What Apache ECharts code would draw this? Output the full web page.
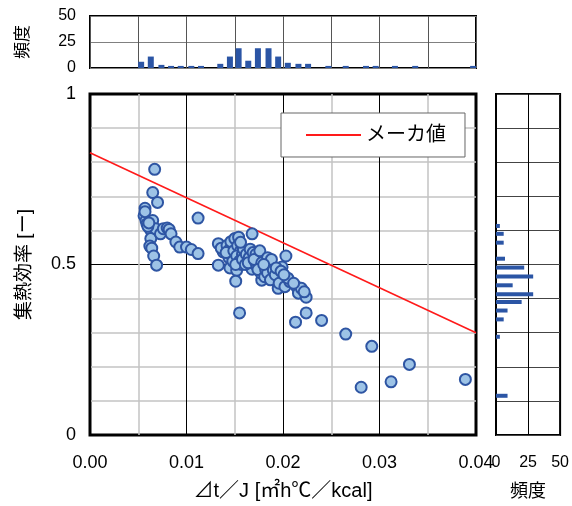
<!DOCTYPE html>
<html><head><meta charset="utf-8">
<script src="https://cdn.jsdelivr.net/npm/echarts@6/dist/echarts.min.js"></script>
<style>html,body{margin:0;padding:0;background:#fff}#c{width:572px;height:506px}</style>
</head><body><div id="c"></div>
<script>
// measured points [Δt/J, collector efficiency]
const measured = [
  [0.0067,0.779],[0.0065,0.711],[0.0070,0.682],[0.0057,0.665],[0.0056,0.643],[0.0058,0.629],
  [0.0059,0.619],[0.0065,0.629],[0.0062,0.605],[0.0064,0.595],[0.0063,0.576],[0.0062,0.554],
  [0.0064,0.548],[0.0066,0.525],[0.0069,0.498],[0.0068,0.605],[0.0073,0.590],[0.0076,0.605],
  [0.0080,0.607],[0.0082,0.603],[0.0084,0.590],[0.0089,0.566],[0.0093,0.551],[0.0100,0.551],
  [0.0105,0.544],[0.0112,0.532],[0.0112,0.636],[0.0057,0.655],[0.0060,0.612],[0.0061,0.622],
  [0.0133,0.561],[0.0133,0.498],[0.0138,0.537],[0.0136,0.548],
  [0.0142,0.556],[0.0145,0.545],[0.0147,0.530],[0.0145,0.490],[0.0149,0.561],[0.0144,0.520],
  [0.0148,0.510],[0.0141,0.535],[0.0146,0.567],[0.0149,0.540],
  [0.0150,0.576],[0.0154,0.580],[0.0152,0.483],[0.0151,0.451],[0.0155,0.358],[0.0153,0.555],
  [0.0156,0.540],[0.0152,0.525],[0.0158,0.530],[0.0155,0.510],[0.0157,0.500],[0.0159,0.545],
  [0.0151,0.500],[0.0156,0.565],[0.0158,0.515],
  [0.0168,0.590],[0.0168,0.486],[0.0162,0.530],[0.0165,0.520],[0.0161,0.500],[0.0166,0.545],
  [0.0164,0.505],[0.0169,0.535],
  [0.0174,0.527],[0.0178,0.454],[0.0171,0.510],[0.0173,0.495],[0.0176,0.520],[0.0179,0.490],
  [0.0172,0.530],[0.0175,0.500],[0.0177,0.475],[0.0170,0.515],[0.0178,0.505],[0.0174,0.485],
  [0.0176,0.540],
  [0.0181,0.464],[0.0185,0.508],[0.0184,0.520],[0.0183,0.495],[0.0187,0.480],[0.0182,0.485],
  [0.0186,0.500],[0.0189,0.470],[0.0188,0.515],[0.0184,0.475],[0.0180,0.500],[0.0187,0.455],
  [0.0197,0.459],[0.0195,0.430],[0.0195,0.474],[0.0199,0.493],[0.0190,0.483],[0.0192,0.470],
  [0.0196,0.445],[0.0193,0.490],[0.0198,0.480],
  [0.0203,0.525],[0.0202,0.435],[0.0207,0.450],[0.0205,0.460],[0.0201,0.470],
  [0.0214,0.435],[0.0216,0.416],[0.0219,0.430],[0.0213,0.331],[0.0211,0.445],
  [0.0224,0.404],[0.0224,0.358],[0.0222,0.420],
  [0.0240,0.336],[0.0265,0.296],[0.0292,0.260],[0.0331,0.207],[0.0312,0.156],[0.0281,0.140],
  [0.0389,0.163]
];
// manufacturer's line
const makerX = [0, 0.04];
const makerY = [0.828, 0.300];
// top histogram (frequency of Δt/J)
const topBinX = [0.0053,0.0063,0.0074,0.0084,0.0094,0.0105,0.0115,0.0135,0.0145,0.0154,0.0164,0.0174,
  0.0185,0.0195,0.0205,0.0216,0.0226,0.0247,0.0265,0.0286,0.0296,0.0316,0.0337,0.0397];
const topCount = [6,11,3,2,2,2,2,4,11,19,7,19,19,11,5,4,4,2,2,2,2,2,2,2];
// right histogram (frequency of efficiency)
const rightBinY = [0.613,0.590,0.564,0.517,0.491,0.465,0.439,0.413,0.390,0.365,0.339,0.288,0.115];
const rightCount = [3,6,6,7,22,29,13,29,20,9,6,3,9];

const FONT = '"Liberation Sans","Noto Sans CJK JP",sans-serif';
const BLUE = '#2b55a5';
const chart = echarts.init(document.getElementById('c'));
chart.setOption({
  animation: false,
  grid: [
    {left: 90, top: 94, width: 386, height: 344, show: true, borderColor: '#000', borderWidth: 3, backgroundColor: '#fff'},
    {left: 90, top: 16, width: 386, height: 52, show: true, borderColor: '#000', borderWidth: 2},
    {left: 496, top: 94, width: 68, height: 344, show: true, borderColor: '#000', borderWidth: 2}
  ],
  legend: {
    data: [{name: 'メーカ値', icon: 'rect'}],
    left: 281, top: 113, itemWidth: 55, itemHeight: 2,
    padding: [12, 19, 12, 25], backgroundColor: '#fff', borderColor: '#666', borderWidth: 1, borderRadius: 0,
    textStyle: {fontSize: 20, color: '#000', fontFamily: FONT}
  },
  xAxis: [
    {gridIndex: 0, type: 'value', min: 0, max: 0.04, interval: 0.01,
     axisLine: {show: false}, axisTick: {show: false},
     axisLabel: {color: '#000', fontSize: 18, fontFamily: FONT, margin: 19, formatter: v => v.toFixed(2)},
     splitLine: {show: true, lineStyle: {color: '#000', width: 1}},
     minorTick: {show: false, splitNumber: 2},
     minorSplitLine: {show: true, lineStyle: {color: '#c4c4c4', width: 1.5}},
     name: '⊿t／J [㎡h℃／kcal]', nameLocation: 'middle', nameGap: 46,
     nameTextStyle: {fontSize: 20, color: '#000', fontFamily: FONT}},
    {gridIndex: 1, type: 'value', min: 0, max: 0.04, interval: 0.005,
     axisLine: {show: false}, axisTick: {show: false}, axisLabel: {show: false},
     splitLine: {show: true, lineStyle: {color: '#555', width: 1}}},
    {gridIndex: 2, type: 'value', min: 0, max: 50, interval: 25,
     axisLine: {show: false}, axisTick: {show: false},
     axisLabel: {color: '#000', fontSize: 16, fontFamily: FONT, margin: 20},
     splitLine: {show: true, lineStyle: {color: '#000', width: 1}},
     name: '頻度', nameLocation: 'middle', nameGap: 48,
     nameTextStyle: {fontSize: 18, color: '#000', fontFamily: FONT}}
  ],
  yAxis: [
    {gridIndex: 0, type: 'value', min: 0, max: 1, interval: 0.5,
     axisLine: {show: false}, axisTick: {show: false},
     axisLabel: {color: '#000', fontSize: 18, fontFamily: FONT, margin: 14},
     splitLine: {show: true, lineStyle: {color: '#000', width: 1}},
     minorTick: {show: false, splitNumber: 5},
     minorSplitLine: {show: true, lineStyle: {color: '#c4c4c4', width: 1.5}},
     name: '集熱効率 [ー]', nameLocation: 'middle', nameRotate: 90, nameGap: 56,
     nameTextStyle: {fontSize: 19, color: '#000', fontFamily: FONT}},
    {gridIndex: 1, type: 'value', min: 0, max: 50, interval: 25,
     axisLine: {show: false}, axisTick: {show: false},
     axisLabel: {color: '#000', fontSize: 16, fontFamily: FONT, margin: 14},
     splitLine: {show: true, lineStyle: {color: '#808080', width: 1}},
     name: '頻度', nameLocation: 'middle', nameRotate: 90, nameGap: 58,
     nameTextStyle: {fontSize: 17, color: '#000', fontFamily: FONT}},
    {gridIndex: 2, type: 'value', min: 0, max: 1, interval: 0.1,
     axisLine: {show: false}, axisTick: {show: false}, axisLabel: {show: false},
     splitLine: {show: true, lineStyle: {color: '#444', width: 1}}}
  ],
  series: [
    {name: 'メーカ値', type: 'line', xAxisIndex: 0, yAxisIndex: 0,
     data: makerX.map((x, i) => [x, makerY[i]]), showSymbol: false, symbol: 'none',
     lineStyle: {color: '#ff1a1a', width: 1.6}, itemStyle: {color: '#ff1a1a'}, z: 2},
    {name: '実測', type: 'scatter', xAxisIndex: 0, yAxisIndex: 0, data: measured,
     symbolSize: 11, itemStyle: {color: '#9dc3e6', borderColor: '#2e55a3', borderWidth: 2, opacity: 1}, z: 3},
    {name: 'topHist', type: 'bar', xAxisIndex: 1, yAxisIndex: 1,
     data: topBinX.map((x, i) => [x, topCount[i]]), barWidth: 6, itemStyle: {color: BLUE}},
    {name: 'rightHist', type: 'custom', xAxisIndex: 2, yAxisIndex: 2,
     data: rightBinY.map((y, i) => [rightCount[i], y]), encode: {x: 0, y: 1},
     renderItem: (params, api) => {
       const p0 = api.coord([0, api.value(1)]);
       const p1 = api.coord([api.value(0), api.value(1)]);
       return {type: 'rect', shape: {x: p0[0], y: p0[1] - 2, width: p1[0] - p0[0], height: 4}, style: {fill: BLUE}};
     }}
  ]
});
</script></body></html>
